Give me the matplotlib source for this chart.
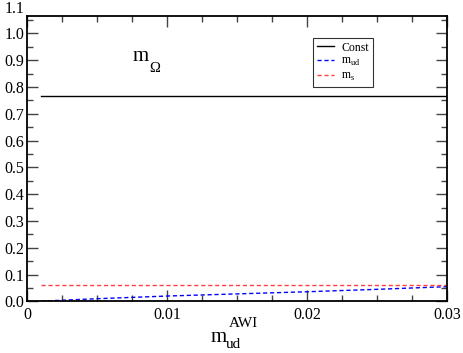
import numpy as np
import matplotlib
matplotlib.use("Agg")
import matplotlib.pyplot as plt
from matplotlib.ticker import MultipleLocator, FixedLocator, FormatStrFormatter

# data
const_x = [0.001, 0.03]
const_y = [0.767, 0.767]
mud_x = [0.001, 0.005, 0.01, 0.015, 0.02, 0.025, 0.03]
mud_y = [0.001, 0.010, 0.020, 0.028, 0.036, 0.045, 0.055]
ms_x = [0.001, 0.03]
ms_y = [0.061, 0.061]
xticks = [0.0, 0.01, 0.02, 0.03]
xtick_labels = ["0", "0.01", "0.02", "0.03"]

plt.rcParams["font.family"] = ["Liberation Serif", "DejaVu Serif"]
plt.rcParams["mathtext.fontset"] = "custom"
plt.rcParams["mathtext.rm"] = "Liberation Serif"

W, H = 463, 353
fig = plt.figure(figsize=(W / 100, H / 100), dpi=100)
ax = fig.add_axes([27 / W, 1 - 301.4 / H, (447 - 27) / W, (301.4 - 15.7) / H])

ax.plot(const_x, const_y, color="black", lw=1.0, label="Const")
ax.plot(mud_x, mud_y, color="blue", lw=1.0, ls=(0, (3, 2)), label=r"m$_{\rm ud}$")
ax.plot(ms_x, ms_y, color="#ff4040", lw=1.0, ls=(0, (3, 2)), label=r"m$_{\rm s}$")

ax.set_xlim(0, 0.03)
ax.set_ylim(0, 1.066)
ax.xaxis.set_major_locator(FixedLocator(xticks))
ax.set_xticklabels(xtick_labels)
ax.xaxis.set_minor_locator(MultipleLocator(0.0025))
ax.yaxis.set_major_locator(MultipleLocator(0.1))
ax.yaxis.set_minor_locator(MultipleLocator(0.05))
ax.yaxis.set_major_formatter(FormatStrFormatter("%.1f"))
ax.tick_params(which="both", direction="in", top=True, right=True,
               labelsize=11.5, width=1.0, color="#444444")
ax.tick_params(which="major", length=8, pad=4)
ax.tick_params(which="minor", length=4)
ax.tick_params(axis="y", pad=2)
for s in ax.spines.values():
    s.set_linewidth(1.3)

# the 1.1 label sits above the frame in the original
tr, va, ha = ax.get_yaxis_text1_transform(2)
ax.text(0, 1.1, "1.1", transform=tr, va=va, ha=ha, fontsize=11.5, clip_on=False)

leg = ax.legend(loc="upper left", bbox_to_anchor=((313 - 27) / 420, 1 - (38 - 15.7) / 285.7),
                fontsize=8.5, frameon=True, fancybox=False, edgecolor="black",
                handlelength=1.5, handletextpad=0.6, borderpad=0.3, labelspacing=0.15,
                borderaxespad=0)
leg.get_frame().set_linewidth(0.8)

# m_Omega label inside plot
fig.text(133 / W, 1 - 61 / H, "m", fontsize=15, ha="left", va="baseline")
fig.text(149 / W, 1 - 72 / H, "\u03a9", fontsize=10.5, ha="left", va="baseline")

# x-axis label m_ud^AWI
fig.text(211 / W, 1 - 342 / H, "m", fontsize=15, ha="left", va="baseline")
fig.text(226 / W, 1 - 348 / H, "ud", fontsize=11, ha="left", va="baseline")
fig.text(229 / W, 1 - 327 / H, "AWI", fontsize=11, ha="left", va="baseline")

fig.savefig("out.png", dpi=100)
